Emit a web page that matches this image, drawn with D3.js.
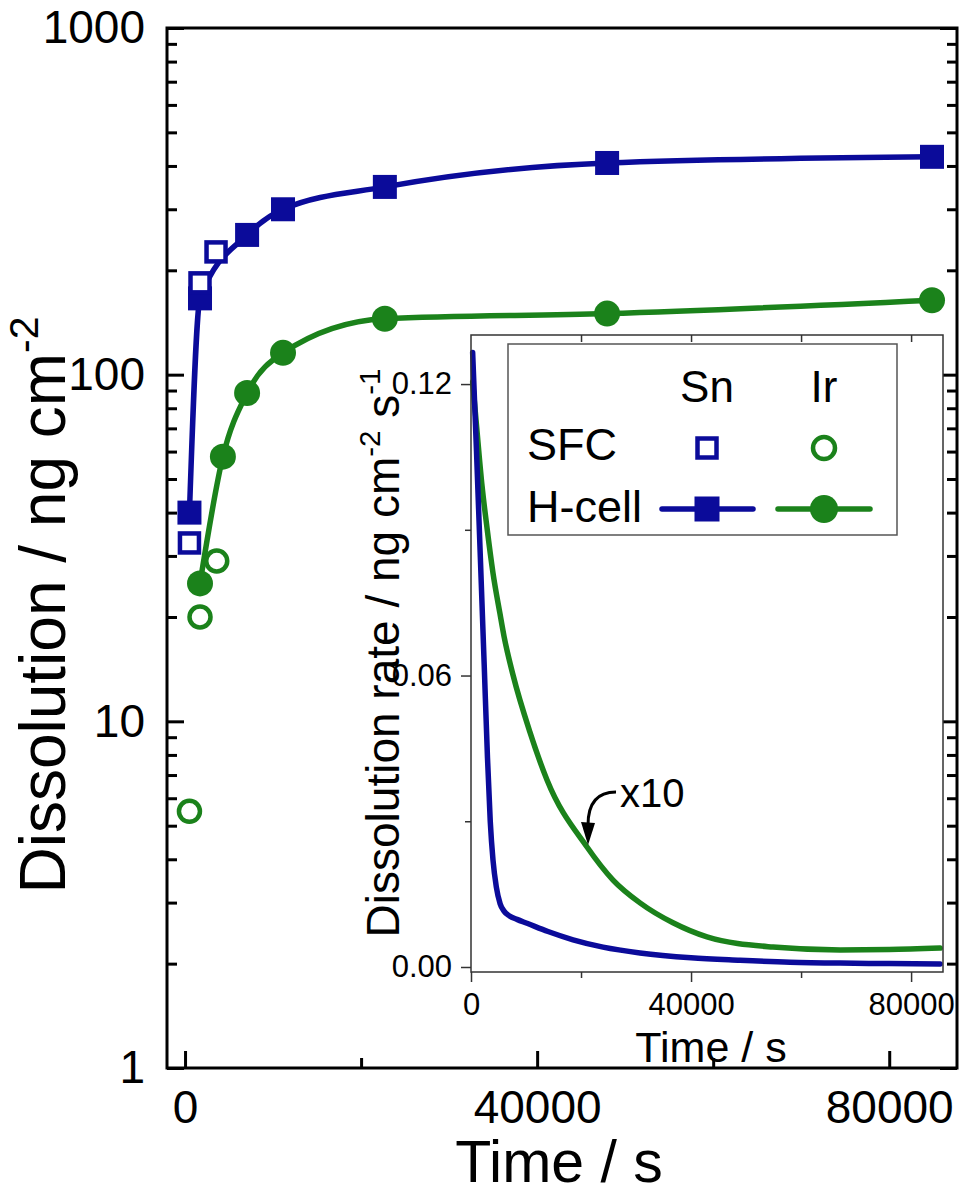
<!DOCTYPE html>
<html>
<head>
<meta charset="utf-8">
<script src="https://cdn.jsdelivr.net/npm/d3@7"></script>
<style>
	body { margin: 0; background: #fff; }
	svg { display: block; font-family: "Liberation Sans", Arial, sans-serif; }
</style>
</head>
<body>
<div id="vis"></div>
<script>
// ---- data ----
// main plot: cumulative dissolution, ng cm-2 vs time / s
var snHcellT = [500, 1700, 7050, 11130, 22700, 47950, 84860];
var snHcellV = [40, 166, 253, 300, 348, 408, 425];
var snSfcT = [500, 1700, 3520];
var snSfcV = [32.7, 184, 226];
var irHcellT = [1700, 4300, 7050, 11130, 22700, 47950, 84860];
var irHcellV = [25, 58, 88.5, 115.6, 145, 150, 164];
var irSfcT = [500, 1700, 3600];
var irSfcV = [5.5, 20, 29];

// inset: dissolution rate, ng cm-2 s-1 (Ir shown x10)
var snRateT = [300, 1000, 1700, 2400, 3000, 3500, 4000, 4600, 5300, 6000, 7000, 8360, 10180, 14000, 18550, 24000, 30720, 40000, 48900, 58000, 67090, 76000, 85270];
var snRateV = [0.1265, 0.1062, 0.0843, 0.0622, 0.0430, 0.0300, 0.0220, 0.0165, 0.0130, 0.0115, 0.0105, 0.0098, 0.0090, 0.0073, 0.0056, 0.0041, 0.0029, 0.0019, 0.0014, 0.0010, 0.0008, 0.0007, 0.0006];
var irRateT = [300, 1000, 2000, 2900, 4000, 5270, 6000, 7640, 10700, 13820, 21090, 25820, 30720, 36720, 42900, 54900, 67090, 76000, 85270];
var irRateV = [0.1205, 0.1115, 0.0991, 0.0905, 0.0811, 0.0727, 0.0681, 0.0601, 0.0484, 0.0385, 0.0247, 0.0179, 0.0132, 0.0091, 0.0062, 0.0041, 0.0035, 0.0036, 0.0039];

// ticks
var mainXTicks = [0, 40000, 80000];
var mainXMinor = [20000, 60000];
var mainYTicks = [1, 10, 100, 1000];
var mainYMinor = [2, 3, 4, 5, 6, 7, 8, 9, 20, 30, 40, 50, 60, 70, 80, 90, 200, 300, 400, 500, 600, 700, 800, 900];
var insetXTicks = [0, 40000, 80000];
var insetXMinor = [20000, 60000];
var insetYTicks = [0, 0.06, 0.12];
var insetYMinor = [0.03, 0.09];
var annoT = 21090, annoV = 0.0247;

var width = 965,
	height = 1198;

var blue = '#0b0b9a',
	green = '#1b821b';

var svg = d3.select('#vis')
	.append('svg')
	.attr('width', width)
	.attr('height', height);

var zip = function(a, b) { return a.map(function(d, i) { return [d, b[i]]; }); };

var cleanAxis = function(g, fs, col, sw) {
	g.attr('font-family', null).attr('font-size', fs);
	g.select('.domain').remove();
	g.selectAll('line').attr('stroke', col).attr('stroke-width', sw);
	g.selectAll('text').attr('fill', '#000');
};

// superscript helper
var richText = function(sel, parts, fs) {
	var shift = 0;
	parts.forEach(function(p) {
		var target = p[1] ? -0.42 * fs : 0;
		var t = sel.append('tspan').text(p[0]).attr('dy', target - shift);
		if (p[1]) t.attr('font-size', fs * 0.64);
		shift = target;
	});
};

// ================= main plot =================
var main = { left: 167, right: 957, top: 28, bottom: 1068 };

var xMain = d3.scaleLinear().domain([-2050, 87700]).range([main.left, main.right]);
var yMain = d3.scaleLog().domain([1, 1000]).range([main.bottom, main.top]);

svg.append('g')
	.attr('transform', 'translate(0,' + main.bottom + ')')
	.call(d3.axisBottom(xMain).tickValues(mainXTicks).tickSizeInner(-17).tickSizeOuter(0).tickPadding(22).tickFormat(d3.format('d')))
	.call(cleanAxis, 46, '#000', 3);

svg.append('g')
	.attr('transform', 'translate(0,' + main.bottom + ')')
	.call(d3.axisBottom(xMain).tickValues(mainXMinor).tickSizeInner(-10).tickSizeOuter(0).tickFormat(''))
	.call(cleanAxis, 46, '#000', 3);

svg.append('g')
	.attr('transform', 'translate(' + main.left + ',0)')
	.call(d3.axisLeft(yMain).tickValues(mainYTicks).tickSizeInner(-17).tickSizeOuter(0).tickPadding(22).tickFormat(d3.format('d')))
	.call(cleanAxis, 46, '#000', 3);

svg.append('g')
	.attr('transform', 'translate(' + main.left + ',0)')
	.call(d3.axisLeft(yMain).tickValues(mainYMinor).tickSizeInner(-10).tickSizeOuter(0).tickFormat(''))
	.call(cleanAxis, 46, '#000', 3);

svg.append('g')
	.attr('transform', 'translate(' + main.right + ',0)')
	.call(d3.axisRight(yMain).tickValues(mainYTicks).tickSizeInner(-17).tickSizeOuter(0).tickFormat(''))
	.call(cleanAxis, 46, '#000', 3);

svg.append('g')
	.attr('transform', 'translate(' + main.right + ',0)')
	.call(d3.axisRight(yMain).tickValues(mainYMinor).tickSizeInner(-10).tickSizeOuter(0).tickFormat(''))
	.call(cleanAxis, 46, '#000', 3);

svg.append('rect')
	.attr('x', main.left).attr('y', main.top)
	.attr('width', main.right - main.left).attr('height', main.bottom - main.top)
	.attr('fill', 'none').attr('stroke', '#000').attr('stroke-width', 3);

// axis titles
svg.append('text')
	.attr('x', (main.left + main.right) / 2 - 3)
	.attr('y', 1182)
	.attr('text-anchor', 'middle')
	.attr('font-size', 59)
	.text('Time / s');

var yTitle = svg.append('text')
	.attr('transform', 'translate(65,605) rotate(-90)')
	.attr('text-anchor', 'middle')
	.attr('font-size', 64);
richText(yTitle, [['Dissolution / ng cm', false], ['-2', true]], 64);

// curves through H-cell points
var lineMain = d3.line()
	.x(function(d) { return xMain(d[0]); })
	.y(function(d) { return yMain(d[1]); })
	.curve(d3.curveMonotoneX);

svg.append('path').datum(zip(snHcellT, snHcellV))
	.attr('d', lineMain).attr('fill', 'none')
	.attr('stroke', blue).attr('stroke-width', 5.5).attr('stroke-linejoin', 'round');

svg.append('path').datum(zip(irHcellT, irHcellV))
	.attr('d', lineMain).attr('fill', 'none')
	.attr('stroke', green).attr('stroke-width', 5.5).attr('stroke-linejoin', 'round');

// H-cell markers
svg.append('g').selectAll('rect')
	.data(zip(snHcellT, snHcellV))
	.enter().append('rect')
	.attr('x', function(d) { return xMain(d[0]) - 12; })
	.attr('y', function(d) { return yMain(d[1]) - 12; })
	.attr('width', 24).attr('height', 24)
	.attr('fill', blue);

svg.append('g').selectAll('circle')
	.data(zip(irHcellT, irHcellV))
	.enter().append('circle')
	.attr('cx', function(d) { return xMain(d[0]); })
	.attr('cy', function(d) { return yMain(d[1]); })
	.attr('r', 13)
	.attr('fill', green);

// SFC markers (open)
svg.append('g').selectAll('rect')
	.data(zip(snSfcT, snSfcV))
	.enter().append('rect')
	.attr('x', function(d) { return xMain(d[0]) - 9.5; })
	.attr('y', function(d) { return yMain(d[1]) - 9.5; })
	.attr('width', 19).attr('height', 19)
	.attr('fill', '#fff').attr('stroke', blue).attr('stroke-width', 4.5);

svg.append('g').selectAll('circle')
	.data(zip(irSfcT, irSfcV))
	.enter().append('circle')
	.attr('cx', function(d) { return xMain(d[0]); })
	.attr('cy', function(d) { return yMain(d[1]); })
	.attr('r', 10.5)
	.attr('fill', '#fff').attr('stroke', green).attr('stroke-width', 4.5);

// ================= inset =================
var ins = { left: 471, right: 943, top: 335, bottom: 972 };

var xIn = d3.scaleLinear().domain([0, 85800]).range([ins.left, ins.right]);
var yIn = d3.scaleLinear().domain([-0.00103, 0.1301]).range([ins.bottom, ins.top]);

svg.append('rect')
	.attr('x', ins.left).attr('y', ins.top)
	.attr('width', ins.right - ins.left).attr('height', ins.bottom - ins.top)
	.attr('fill', '#fff');

svg.append('g')
	.attr('transform', 'translate(0,' + ins.bottom + ')')
	.call(d3.axisBottom(xIn).tickValues(insetXTicks).tickSizeInner(10).tickSizeOuter(0).tickPadding(11).tickFormat(d3.format('d')))
	.call(cleanAxis, 31, '#333', 1.5);

svg.append('g')
	.attr('transform', 'translate(0,' + ins.bottom + ')')
	.call(d3.axisBottom(xIn).tickValues(insetXMinor).tickSizeInner(6).tickSizeOuter(0).tickFormat(''))
	.call(cleanAxis, 31, '#333', 1.5);

svg.append('g')
	.attr('transform', 'translate(0,' + ins.top + ')')
	.call(d3.axisTop(xIn).tickValues(insetXTicks.concat(insetXMinor).filter(function(d) { return d > 0; })).tickSizeInner(-7).tickSizeOuter(0).tickFormat(''))
	.call(cleanAxis, 31, '#333', 1.5);

svg.append('g')
	.attr('transform', 'translate(' + ins.left + ',0)')
	.call(d3.axisLeft(yIn).tickValues(insetYTicks).tickSizeInner(10).tickSizeOuter(0).tickPadding(9).tickFormat(d3.format('.2f')))
	.call(cleanAxis, 31, '#333', 1.5);

svg.append('g')
	.attr('transform', 'translate(' + ins.left + ',0)')
	.call(d3.axisLeft(yIn).tickValues(insetYMinor).tickSizeInner(6).tickSizeOuter(0).tickFormat(''))
	.call(cleanAxis, 31, '#333', 1.5);

svg.append('text')
	.attr('x', (ins.left + ins.right) / 2 + 4)
	.attr('y', 1062)
	.attr('text-anchor', 'middle')
	.attr('font-size', 43)
	.text('Time / s');

var yInTitle = svg.append('text')
	.attr('transform', 'translate(399,653) rotate(-90)')
	.attr('text-anchor', 'middle')
	.attr('font-size', 46);
richText(yInTitle, [['Dissolution rate / ng cm', false], ['-2', true], [' s', false], ['-1', true]], 46);

var lineIn = d3.line()
	.x(function(d) { return xIn(d[0]); })
	.y(function(d) { return yIn(d[1]); })
	.curve(d3.curveMonotoneX);

svg.append('path').datum(zip(irRateT, irRateV))
	.attr('d', lineIn).attr('fill', 'none')
	.attr('stroke', green).attr('stroke-width', 5.5).attr('stroke-linecap', 'round');

svg.append('path').datum(zip(snRateT, snRateV))
	.attr('d', lineIn).attr('fill', 'none')
	.attr('stroke', blue).attr('stroke-width', 5.5).attr('stroke-linecap', 'round');

svg.append('rect')
	.attr('x', ins.left).attr('y', ins.top)
	.attr('width', ins.right - ins.left).attr('height', ins.bottom - ins.top)
	.attr('fill', 'none').attr('stroke', '#333').attr('stroke-width', 1.5);

// "x10" annotation
var tipX = xIn(annoT),
	tipY = yIn(annoV) - 2;

svg.append('path')
	.attr('d', 'M' + (tipX + 29) + ',' + (tipY - 53) +
		' C' + (tipX + 12) + ',' + (tipY - 53) + ' ' + (tipX + 1) + ',' + (tipY - 44) + ' ' + (tipX + 1) + ',' + (tipY - 20))
	.attr('fill', 'none').attr('stroke', '#000').attr('stroke-width', 3);

svg.append('path')
	.attr('d', 'M' + (tipX - 6) + ',' + (tipY - 23) + ' L' + (tipX + 8) + ',' + (tipY - 22) + ' L' + (tipX + 1) + ',' + tipY + ' Z')
	.attr('fill', '#000');

svg.append('text')
	.attr('x', tipX + 33)
	.attr('y', tipY - 38)
	.attr('font-size', 40)
	.text('x10');

// ---- legend ----
var legend = svg.append('g').attr('transform', 'translate(508,344)');

legend.append('rect')
	.attr('width', 389).attr('height', 191)
	.attr('fill', '#fff').attr('stroke', '#555').attr('stroke-width', 1.5);

var colX = [199, 316];

legend.selectAll('.hdr')
	.data(['Sn', 'Ir'])
	.enter().append('text')
	.attr('class', 'hdr')
	.attr('x', function(d, i) { return colX[i]; })
	.attr('y', 58)
	.attr('text-anchor', 'middle')
	.attr('font-size', 44)
	.text(function(d) { return d; });

legend.selectAll('.row')
	.data(['SFC', 'H-cell'])
	.enter().append('text')
	.attr('class', 'row')
	.attr('x', 19)
	.attr('y', function(d, i) { return 116 + i * 62; })
	.attr('font-size', 45)
	.text(function(d) { return d; });

// SFC symbols
legend.append('rect')
	.attr('x', colX[0] - 9.5).attr('y', 104 - 9.5)
	.attr('width', 19).attr('height', 19)
	.attr('fill', '#fff').attr('stroke', blue).attr('stroke-width', 4.5);
legend.append('circle')
	.attr('cx', colX[1]).attr('cy', 104).attr('r', 11)
	.attr('fill', '#fff').attr('stroke', green).attr('stroke-width', 4.5);

// H-cell symbols
legend.append('line')
	.attr('x1', colX[0] - 45).attr('x2', colX[0] + 46)
	.attr('y1', 165).attr('y2', 165)
	.attr('stroke', blue).attr('stroke-width', 5.5).attr('stroke-linecap', 'round');
legend.append('rect')
	.attr('x', colX[0] - 12.5).attr('y', 165 - 12.5)
	.attr('width', 25).attr('height', 25)
	.attr('fill', blue);
legend.append('line')
	.attr('x1', colX[1] - 46).attr('x2', colX[1] + 46)
	.attr('y1', 165).attr('y2', 165)
	.attr('stroke', green).attr('stroke-width', 5.5).attr('stroke-linecap', 'round');
legend.append('circle')
	.attr('cx', colX[1]).attr('cy', 165).attr('r', 14)
	.attr('fill', green);
</script>
</body>
</html>
